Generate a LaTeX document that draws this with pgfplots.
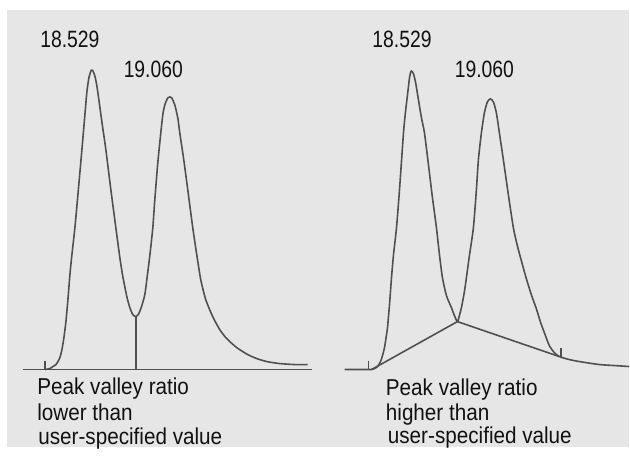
\documentclass[border=0pt]{standalone}
\usepackage{fontspec}
\setmainfont[FakeStretch=0.9]{Liberation Sans}
\newfontfamily\numfont[FakeStretch=0.82]{Liberation Sans}
\usepackage{pgfplots}
\pgfplotsset{compat=1.18}
\definecolor{bg}{HTML}{E6E6E6}
\definecolor{ln}{HTML}{505050}
\definecolor{tx}{HTML}{111111}
\begin{document}
\begin{tikzpicture}
\begin{axis}[width=315pt,height=228pt,scale only axis,
  xmin=0,xmax=630,ymin=0,ymax=456,y dir=reverse,
  axis lines=none,clip=false]
\path[fill=white] (axis cs:0,0) rectangle (axis cs:630,456);
\path[fill=bg] (axis cs:7,10) rectangle (axis cs:630,448);
% left panel chromatogram
\addplot[ln,line width=0.8pt,smooth,tension=0.4,line join=round] coordinates {
(45,370) (50,369) (53,367) (56,365) (58,362) (60,358) (62,350) (64,338) (66,322) (68,300) (70,275) (72,255) (75,228) (78,195) (82,150) (85,115) (87,92) (89,78) (91,71) (92,70) (93,71) (95,76) (97,86) (99,100) (102,122) (106,150) (111,190) (116,228) (120,258) (123,277) (127,297) (130,308) (133,315) (136,317) (139,314) (142,306) (145,295) (147,280) (150,256) (153,228) (155,200) (158,163) (161,133) (163,115) (165,105) (168,98) (170,97) (172,98) (175,105) (178,118) (180,133) (184,160) (188,190) (193,228) (197,255) (201,280) (206,300) (213,317) (220,330) (227,339) (237,348) (248,355) (257,359) (267,362) (280,364) (295,365) (308,365)};
% left baseline, tick and drop line
\addplot[ln,line width=0.8pt] coordinates {(23,370) (312,370)};
\addplot[ln,line width=0.8pt] coordinates {(45,361) (45,370)};
\addplot[ln,line width=0.8pt] coordinates {(136,317) (136,370)};
% right panel chromatogram
\addplot[ln,line width=0.8pt,smooth,tension=0.4,line join=round] coordinates {
(372,370) (375,369) (378,367) (381,362) (383,356) (385,348) (387,335) (388,328) (390,305) (392,278) (394,255) (397,228) (400,190) (404,133) (406,112) (408,95) (410,78) (411,73) (412,71) (414,74) (416,82) (419,100) (422,118) (425,133) (429,165) (433,198) (437,228) (440,255) (443,278) (447,296) (452,308) (455,316) (458,322) (460,316) (462,308) (465,292) (467,278) (470,256) (474,228) (477,190) (479,160) (482,133) (485,113) (488,102) (491,99) (494,102) (497,113) (500,133) (504,160) (509,195) (514,228) (518,246) (522,261) (527,279) (532,295) (537,309) (541,322) (545,333) (550,346) (555,353) (560,357) (570,360) (580,362) (600,365) (615,366) (630,367)};
% right baseline, valley-to-valley lines and ticks
\addplot[ln,line width=0.8pt] coordinates {(345,370) (372,370) (458,322) (560,357)};
\addplot[ln,line width=0.8pt] coordinates {(369,361) (369,370)};
\addplot[ln,line width=0.8pt] coordinates {(562,348) (562,357)};
% labels
\node[anchor=base,text=tx,inner sep=0pt,font=\numfont\fontsize{11.8}{13}\selectfont] at (axis cs:70,48) {18.529};
\node[anchor=base,text=tx,inner sep=0pt,font=\numfont\fontsize{11.8}{13}\selectfont] at (axis cs:153.5,78) {19.060};
\node[anchor=base,text=tx,inner sep=0pt,font=\numfont\fontsize{11.8}{13}\selectfont] at (axis cs:402.5,48) {18.529};
\node[anchor=base,text=tx,inner sep=0pt,font=\numfont\fontsize{11.8}{13}\selectfont] at (axis cs:485,78) {19.060};
\node[anchor=base west,text=tx,inner sep=0pt,font=\fontsize{11.5}{13}\selectfont] at (axis cs:37,395) {Peak valley ratio};
\node[anchor=base west,text=tx,inner sep=0pt,font=\fontsize{11.5}{13}\selectfont] at (axis cs:37,421) {lower than};
\node[anchor=base west,text=tx,inner sep=0pt,font=\fontsize{11.5}{13}\selectfont] at (axis cs:38,445) {user-specified value};
\node[anchor=base west,text=tx,inner sep=0pt,font=\fontsize{11.5}{13}\selectfont] at (axis cs:386,396) {Peak valley ratio};
\node[anchor=base west,text=tx,inner sep=0pt,font=\fontsize{11.5}{13}\selectfont] at (axis cs:386,421) {higher than};
\node[anchor=base west,text=tx,inner sep=0pt,font=\fontsize{11.5}{13}\selectfont] at (axis cs:388,444) {user-specified value};
\end{axis}
\end{tikzpicture}
\end{document}
